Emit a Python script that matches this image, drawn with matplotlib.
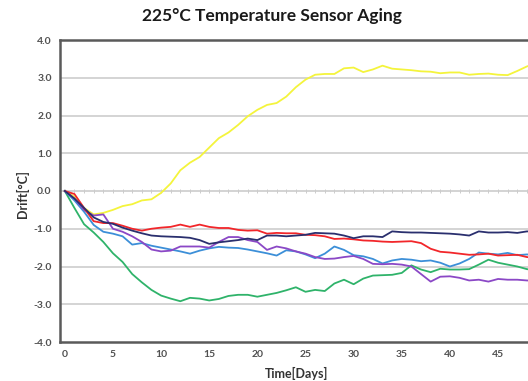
import matplotlib
matplotlib.use("Agg")
import matplotlib.pyplot as plt
import numpy as np

days = list(range(0, 51))

yellow = [0, -0.15, -0.45, -0.62, -0.58, -0.5, -0.4, -0.35, -0.25, -0.22,
          -0.05, 0.2, 0.55, 0.75, 0.9, 1.15, 1.4, 1.55, 1.75, 1.98,
          2.15, 2.28, 2.33, 2.5, 2.75, 2.95, 3.08, 3.1, 3.1, 3.25,
          3.27, 3.15, 3.22, 3.32, 3.24, 3.22, 3.2, 3.17, 3.16, 3.12,
          3.14, 3.14, 3.08, 3.1, 3.11, 3.08, 3.07, 3.18, 3.3, 3.38, 3.42]

green = [0, -0.45, -0.88, -1.1, -1.35, -1.65, -1.88, -2.2, -2.42, -2.62,
         -2.77, -2.85, -2.92, -2.83, -2.85, -2.9, -2.86, -2.78, -2.75, -2.75,
         -2.8, -2.75, -2.7, -2.63, -2.55, -2.67, -2.62, -2.65, -2.45, -2.35,
         -2.47, -2.32, -2.24, -2.23, -2.22, -2.17, -1.97, -2.08, -2.15, -2.06,
         -2.08, -2.08, -2.07, -1.95, -1.82, -1.9, -1.95, -2.0, -2.07, -2.1, -2.12]

red = [0, -0.08, -0.45, -0.8, -0.85, -0.85, -0.92, -1.0, -1.05, -1.0,
       -0.97, -0.95, -0.89, -0.95, -0.89, -0.95, -0.98, -0.98, -1.03, -1.05,
       -1.04, -1.13, -1.11, -1.12, -1.12, -1.16, -1.17, -1.2, -1.27, -1.26,
       -1.28, -1.31, -1.32, -1.34, -1.35, -1.34, -1.33, -1.38, -1.53, -1.61,
       -1.63, -1.66, -1.69, -1.68, -1.66, -1.71, -1.7, -1.69, -1.75, -1.77, -1.78]

navy = [0, -0.2, -0.45, -0.7, -0.82, -0.87, -0.97, -1.05, -1.12, -1.18,
        -1.2, -1.21, -1.22, -1.24, -1.3, -1.4, -1.36, -1.33, -1.3, -1.26,
        -1.3, -1.18, -1.18, -1.2, -1.18, -1.16, -1.11, -1.12, -1.13, -1.18,
        -1.25, -1.2, -1.2, -1.22, -1.07, -1.09, -1.1, -1.1, -1.11, -1.12,
        -1.13, -1.15, -1.18, -1.07, -1.1, -1.1, -1.09, -1.11, -1.07, -1.08, -1.07]

lightblue = [0, -0.25, -0.55, -0.9, -1.08, -1.13, -1.2, -1.42, -1.38, -1.45,
             -1.5, -1.55, -1.6, -1.66, -1.58, -1.52, -1.48, -1.5, -1.51, -1.55,
             -1.6, -1.65, -1.71, -1.57, -1.6, -1.68, -1.78, -1.66, -1.47, -1.56,
             -1.7, -1.73, -1.8, -1.92, -1.84, -1.8, -1.82, -1.86, -1.84, -1.9,
             -2.0, -1.92, -1.8, -1.63, -1.66, -1.68, -1.64, -1.7, -1.68, -1.7, -1.72]

purple = [0, -0.2, -0.5, -0.65, -0.62, -1.0, -1.08, -1.2, -1.35, -1.55,
          -1.6, -1.58, -1.47, -1.47, -1.47, -1.5, -1.35, -1.22, -1.22, -1.3,
          -1.35, -1.56, -1.47, -1.52, -1.6, -1.66, -1.75, -1.8, -1.79, -1.75,
          -1.72, -1.8, -1.93, -1.94, -1.93, -1.95, -2.0, -2.2, -2.4, -2.27,
          -2.26, -2.3, -2.37, -2.35, -2.4, -2.33, -2.35, -2.35, -2.37, -2.38, -2.37]

yticks = [-4.0, -3.0, -2.0, -1.0, 0.0, 1.0, 2.0, 3.0, 4.0]
xticks = [0, 5, 10, 15, 20, 25, 30, 35, 40, 45]

series = [
    (yellow, "#f4f43c"),
    (green, "#2fb36a"),
    (lightblue, "#3c8fd8"),
    (purple, "#8b48c6"),
    (red, "#f2262a"),
    (navy, "#2a2f6e"),
]

W, H = 528, 381
fig = plt.figure(figsize=(W / 100, H / 100), dpi=100)
left, right, top, bottom = 60, 551, 40, 342
ax = fig.add_axes([left / W, 1 - bottom / H, (right - left) / W, (bottom - top) / H])

ax.set_xlim(-0.5, 50.5)
ax.set_ylim(-4, 4)

for v in [-3, -2, -1, 1, 2, 3]:
    ax.axhline(v, color="#d4d4d4", lw=1.4, zorder=1)

sec = ax.secondary_xaxis(0.5)
sec.set_xticks(days)
sec.tick_params(axis="x", direction="inout", length=3, width=0.7, color="#cccccc", labelbottom=False, labeltop=False)
sec.spines["top"].set_color("#cccccc")
sec.spines["top"].set_linewidth(1.2)
sec.spines["bottom"].set_color("#cccccc")

for vals, col in series:
    ax.plot(days, vals, color=col, lw=1.3, zorder=3)

for s in ["left", "top", "bottom"]:
    ax.spines[s].set_color("#5a5a5a")
    ax.spines[s].set_linewidth(1.8)
ax.spines["right"].set_visible(False)

ax.set_yticks(yticks)
ax.set_yticklabels([f"{v:.1f}" for v in yticks])
ax.set_xticks(xticks)
ax.set_xticklabels([str(v) for v in xticks])
ax.tick_params(axis="both", length=0, labelsize=7.5, labelcolor="#505050", pad=6)
for lab in ax.get_yticklabels() + ax.get_xticklabels():
    lab.set_fontfamily("Lato")
    lab.set_fontweight("bold")

fig.text(272 / W, 1 - 16 / H, "225°C Temperature Sensor Aging", ha="center", va="center",
         fontsize=12.5, fontweight="bold", family="Lato", color="#1a1a1a")
fig.text(297 / W, 1 - 373 / H, "Time[Days]", ha="center", va="center",
         fontsize=9, fontweight="bold", family="Lato", color="#333333")
fig.text(22 / W, 1 - 194 / H, "Drift[°C]", ha="center", va="center", rotation=90,
         fontsize=9, fontweight="bold", family="Lato", color="#333333")

fig.savefig("out.png", dpi=100)
